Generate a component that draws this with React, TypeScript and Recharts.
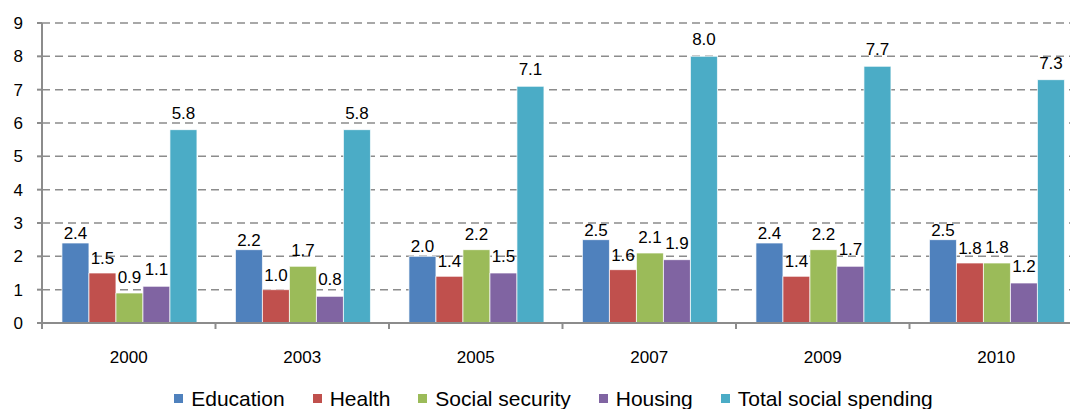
import React from "react";
import { BarChart, Bar, XAxis, YAxis, CartesianGrid, Legend, LabelList } from "recharts";

const years = ["2000", "2003", "2005", "2007", "2009", "2010"];
const education = [2.4, 2.2, 2.0, 2.5, 2.4, 2.5];
const health = [1.5, 1.0, 1.4, 1.6, 1.4, 1.8];
const socialSecurity = [0.9, 1.7, 2.2, 2.1, 2.2, 1.8];
const housing = [1.1, 0.8, 1.5, 1.9, 1.7, 1.2];
const totalSocial = [5.8, 5.8, 7.1, 8.0, 7.7, 7.3];
const yTicks = [0, 1, 2, 3, 4, 5, 6, 7, 8, 9];

const SERIES = [
  { key: "education", name: "Education", color: "#4F81BD", labelOffset: 4 },
  { key: "health", name: "Health", color: "#C0504D", labelOffset: 9 },
  { key: "social", name: "Social security", color: "#9BBB59", labelOffset: 10 },
  { key: "housing", name: "Housing", color: "#8064A2", labelOffset: 11 },
  { key: "total", name: "Total social spending", color: "#4BACC6", labelOffset: 11 },
];

const data = years.map((year, i) => ({
  year,
  education: education[i],
  health: health[i],
  social: socialSecurity[i],
  housing: housing[i],
  total: totalSocial[i],
}));

const FONT = "'Liberation Sans', Arial, sans-serif";
const CHART_W = 1083;
const CHART_H = 409;
const AXIS_LEFT = 42;
const PLOT_BOTTOM = 323;
const BAND = (CHART_W - AXIS_LEFT) / years.length;
const GRAY = "#8c8c8c";

const YearTick = ({ x, payload, index }: any) => (
  <g>
    <line x1={x - BAND / 2} x2={x - BAND / 2} y1={PLOT_BOTTOM} y2={PLOT_BOTTOM + 6} stroke={GRAY} strokeWidth={2} />
    {index === years.length - 1 && (
      <line x1={x + BAND / 2} x2={x + BAND / 2} y1={PLOT_BOTTOM} y2={PLOT_BOTTOM + 6} stroke={GRAY} strokeWidth={2} />
    )}
    <text x={x} y={PLOT_BOTTOM + 40} textAnchor="middle" fontSize={17} fontFamily={FONT} fill="#000">
      {payload.value}
    </text>
  </g>
);

const LegendContent = () => (
  <div
    style={{
      display: "flex",
      justifyContent: "center",
      paddingLeft: 24,
      paddingTop: 9,
      height: 30,
      boxSizing: "border-box",
      fontFamily: FONT,
      fontSize: 21,
      lineHeight: "24px",
      color: "#000",
      whiteSpace: "nowrap",
    }}
  >
    {SERIES.map((s, i) => (
      <div key={s.key} style={{ display: "flex", alignItems: "center", marginLeft: i === 0 ? 0 : 28 }}>
        <span style={{ width: 9, height: 9, background: s.color, display: "inline-block", marginRight: 8 }} />
        <span>{s.name}</span>
      </div>
    ))}
  </div>
);

export default function App() {
  return (
    <div style={{ position: "absolute", left: 0, top: 0, width: 1070, height: CHART_H, overflow: "hidden", background: "#fff" }}>
      <BarChart
        width={CHART_W}
        height={CHART_H}
        data={data}
        margin={{ top: 23, right: 0, bottom: 0, left: 0 }}
        barCategoryGap="11.5%"
        barGap={0}
      >
        <CartesianGrid vertical={false} stroke={GRAY} strokeWidth={1.5} strokeDasharray="8 5" />
        <XAxis
          dataKey="year"
          height={56}
          tick={<YearTick />}
          tickLine={false}
          axisLine={{ stroke: GRAY, strokeWidth: 2 }}
          interval={0}
        />
        <YAxis
          width={AXIS_LEFT}
          domain={[0, 9]}
          ticks={yTicks}
          interval={0}
          tickSize={5}
          tickMargin={14}
          tick={{ fontSize: 17, fontFamily: FONT, fill: "#000" }}
          tickLine={{ stroke: GRAY, strokeWidth: 2 }}
          axisLine={{ stroke: GRAY, strokeWidth: 2 }}
        />
        <Legend verticalAlign="bottom" height={30} content={<LegendContent />} />
        {SERIES.map((s) => (
          <Bar
            key={s.key}
            dataKey={s.key}
            name={s.name}
            fill={s.color}
            stroke="rgba(255,255,255,0.7)"
            strokeWidth={1}
            isAnimationActive={false}
          >
            <LabelList
              dataKey={s.key}
              position="top"
              offset={s.labelOffset}
              formatter={(v: any) => Number(v).toFixed(1)}
              style={{ fontSize: 17, fontFamily: FONT, fill: "#000" }}
            />
          </Bar>
        ))}
      </BarChart>
    </div>
  );
}
